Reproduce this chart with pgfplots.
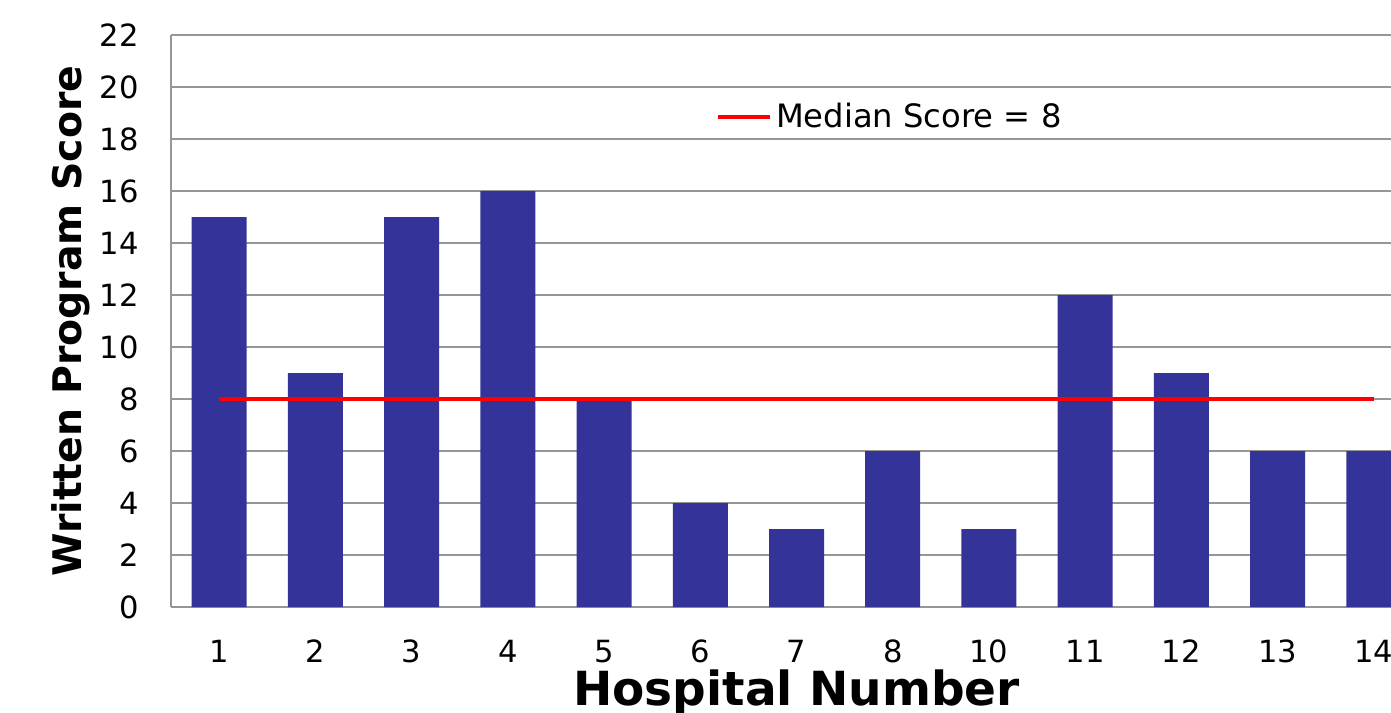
\documentclass[border=0pt]{standalone}
\usepackage{fontspec}
\setmainfont{DejaVu Sans}
\usepackage{pgfplots}
\pgfplotsset{compat=1.18}
\definecolor{barblue}{RGB}{51,51,153}
\definecolor{gridgray}{RGB}{150,150,150}
\begin{document}
\begin{tikzpicture}
\begin{pgfinterruptboundingbox}
\begin{axis}[
  at={(85.5pt,52.5pt)}, anchor=south west,
  scale only axis, width=625.5pt, height=286pt,
  xmin=-0.5, xmax=12.5, ymin=0, ymax=22,
  ytick={0,2,...,22},
  xtick={0,...,12},
  xticklabels={1,2,3,4,5,6,7,8,10,11,12,13,14},
  axis x line=bottom, axis y line=left,
  axis line style={-, gridgray, line width=1pt},
  ymajorgrids, major grid style={gridgray, line width=1pt},
  major tick length=0pt,
  /pgf/number format/assume math mode=true,
  tick label style={font=\fontsize{15.3}{18}\selectfont, inner sep=0pt},
  yticklabel style={anchor=east, xshift=-16pt},
  xticklabel style={anchor=base, yshift=-27.5pt},
  xlabel={Hospital Number},
  ylabel={Written Program Score},
  xlabel style={font=\bfseries\fontsize{23.5}{26}\selectfont, at={(axis description cs:0.5,0)}, anchor=base, yshift=-49pt},
  ylabel style={font=\bfseries\fontsize{19.7}{24}\selectfont, at={(axis description cs:-0.0799,0.5)}, anchor=center, rotate=0},
  legend style={draw=none, fill=none, at={(axis description cs:0.4357,0.8566)}, anchor=west, inner sep=0pt, outer sep=0pt, font=\fontsize{16.1}{19}\selectfont, nodes={inner sep=2pt}},
  legend image code/.code={\draw[red, line width=2pt] (0pt,0pt) -- (26pt,0pt);},
  clip=false,
]
\addplot[ybar, bar width=27.5pt, fill=barblue, draw=none, forget plot] coordinates {
  (0,15) (1,9) (2,15) (3,16) (4,8) (5,4) (6,3) (7,6) (8,3) (9,12) (10,9) (11,6) (12,6)
};
\addplot[red, line width=2pt] coordinates {(0,8) (12,8)};
\addlegendentry{Median Score = 8}
\end{axis}
\end{pgfinterruptboundingbox}
\useasboundingbox (0,0) rectangle (695.5pt,356pt);
\end{tikzpicture}
\end{document}
